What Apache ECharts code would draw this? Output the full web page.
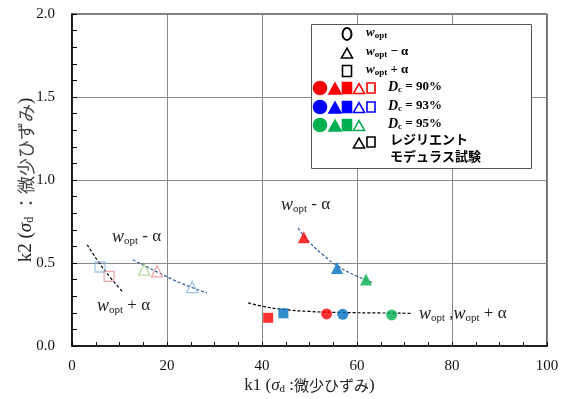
<!DOCTYPE html>
<html>
<head>
<meta charset="utf-8">
<script src="https://cdn.jsdelivr.net/npm/echarts@6/dist/echarts.min.js"></script>
<style>
	html, body { margin: 0; padding: 0; background: #fff; }
	#mychart { width: 565px; height: 399px; }
</style>
</head>
<body>
<div id="mychart"></div>
<script>
// x ticks / y ticks
var xTicks = [0, 20, 40, 60, 80, 100];
var yTicks = [0.0, 0.5, 1.0, 1.5, 2.0];

// 微少ひずみ試験 (filled) : [k1, k2]
var dc90Opt = [[53.6, 0.193]];
var dc93Opt = [[57.0, 0.191]];
var dc95Opt = [[67.3, 0.187]];
var dc90Minus = [[48.8, 0.655]];
var dc93Minus = [[55.8, 0.47]];
var dc95Minus = [[61.9, 0.40]];
var dc90Plus = [[41.3, 0.170]];
var dc93Plus = [[44.5, 0.197]];

// レジリエントモデュラス試験 (open)
var rm90Minus = [[17.9, 0.45]];
var rm93Minus = [[25.3, 0.355]];
var rm95Minus = [[15.2, 0.46]];
var rm90Plus = [[7.8, 0.42]];
var rm93Plus = [[5.9, 0.476]];

// trend lines
var trendRmPlus = [[3.2, 0.61], [5.5, 0.51], [8.0, 0.415], [10.7, 0.325]];
var trendRmMinus = [[12.8, 0.52], [18, 0.445], [23, 0.378], [28.4, 0.32]];
var trendSmMinus = [[47.6, 0.71], [50, 0.625], [53, 0.545], [56, 0.48], [60, 0.42], [63.4, 0.38]];
var trendSmOpt = [[37.1, 0.26], [40, 0.24], [44, 0.222], [50, 0.208], [57, 0.202], [65, 0.199], [71.6, 0.197]];

var legendDc = ['90%', '93%', '95%'];

var chart = {
	colors : { red : '#FF0000', blue : '#0070C0', green : '#00B050' },
	legendColors : { red : '#FF0000', blue : '#0000FF', green : '#00B050' },
	light : { red : '#E88E8E', blue : '#8DB4E2', green : '#A9D18E' },
	serif : '"Liberation Serif", "Times New Roman", "Noto Sans CJK JP", serif',

	initial : function initial() {
		var myChart = echarts.init(document.getElementById('mychart'));
		myChart.setOption(this.buildOption());
	},

	filled : function filled(name, data, symbol, color, size) {
		return {
			name : name, type : 'scatter', data : data, symbol : symbol, symbolSize : size,
			itemStyle : { color : color }, z : 5
		};
	},

	open : function open(name, data, symbol, color, size) {
		return {
			name : name, type : 'scatter', data : data, symbol : symbol, symbolSize : size,
			itemStyle : { color : 'rgba(0,0,0,0)', borderColor : color, borderWidth : 1.3 }, z : 5
		};
	},

	trend : function trend(data, color) {
		return {
			type : 'line', data : data, smooth : true, symbol : 'none', z : 3,
			lineStyle : { color : color, width : 1.2, type : [3, 2] }
		};
	},

	wText : function wText(x, y, tail) {
		return {
			type : 'text', left : x, top : y, z : 20,
			style : {
				text : '{w|w}{s|opt}{n|' + tail + '}',
				rich : {
					w : { fontFamily : chart.serif, fontStyle : 'italic', fontSize : 18, fill : '#222' },
					s : { fontFamily : chart.serif, fontSize : 11, fill : '#222', padding : [8, 0, 0, 0] },
					n : { fontFamily : chart.serif, fontSize : 17, fill : '#222' }
				}
			}
		};
	},

	tri : function tri(cx, cy, w, stroke, fill) {
		var h = w * 0.9;
		return {
			type : 'polygon', z : 31,
			shape : { points : [[cx, cy - h / 2], [cx + w / 2, cy + h / 2], [cx - w / 2, cy + h / 2]] },
			style : { fill : fill, stroke : stroke, lineWidth : 1.6 }
		};
	},

	sq : function sq(cx, cy, w, stroke, fill) {
		return {
			type : 'rect', z : 31,
			shape : { x : cx - w / 2, y : cy - w / 2 - 1, width : w, height : w + 2 },
			style : { fill : fill, stroke : stroke, lineWidth : 1.6 }
		};
	},

	circ : function circ(cx, cy, r, stroke, fill) {
		return {
			type : 'circle', z : 31,
			shape : { cx : cx, cy : cy, r : r },
			style : { fill : fill, stroke : stroke, lineWidth : 1.6 }
		};
	},

	legendText : function legendText(x, y, text, rich) {
		return {
			type : 'text', left : x, top : y, z : 32,
			style : { text : text, rich : rich, fontFamily : chart.serif, fontWeight : 'bold', fontSize : 13, fill : '#000' }
		};
	},

	buildLegend : function buildLegend() {
		var els = [];
		var wRich = {
			w : { fontFamily : chart.serif, fontStyle : 'italic', fontWeight : 'bold', fontSize : 13 },
			s : { fontFamily : chart.serif, fontWeight : 'bold', fontSize : 9, padding : [6, 0, 0, 0] },
			n : { fontFamily : chart.serif, fontWeight : 'bold', fontSize : 13 }
		};
		var dRich = {
			d : { fontFamily : chart.serif, fontStyle : 'italic', fontWeight : 'bold', fontSize : 14 },
			s : { fontFamily : chart.serif, fontWeight : 'bold', fontSize : 9, padding : [6, 0, 0, 0] },
			n : { fontFamily : chart.serif, fontWeight : 'bold', fontSize : 13 }
		};
		els.push({
			type : 'rect', z : 30,
			shape : { x : 311.5, y : 24.5, width : 220, height : 144 },
			style : { fill : '#fff', stroke : '#555', lineWidth : 1 }
		});
		// water content rows
		els.push({
			type : 'ellipse', z : 31,
			shape : { cx : 347, cy : 34, rx : 4.5, ry : 6 },
			style : { fill : 'none', stroke : '#000', lineWidth : 2 }
		});
		els.push(this.tri(347, 53, 11, '#000', 'none'));
		els.push(this.sq(347, 71, 9, '#000', 'none'));
		els.push(this.legendText(366, 26, '{w|w}{s|opt}', wRich));
		els.push(this.legendText(366, 45, '{w|w}{s|opt}{n| − α}', wRich));
		els.push(this.legendText(366, 63, '{w|w}{s|opt}{n| + α}', wRich));
		// density rows
		var keys = ['red', 'blue', 'green'];
		var rowY = [88, 107, 125];
		for (var i = 0; i < legendDc.length; i++) {
			var c = this.legendColors[keys[i]];
			var y = rowY[i];
			els.push(this.circ(320, y, 6.5, c, c));
			els.push(this.tri(335, y + 0.5, 12, c, c));
			els.push(this.sq(347, y, 9, c, c));
			els.push(this.tri(359, y + 0.5, 11, c, '#fff'));
			if (i < 2) {
				els.push(this.sq(371, y, 8, c, '#fff'));
			}
			els.push(this.legendText(388, y - 8, '{d|D}{s|c}{n| = ' + legendDc[i] + '}', dRich));
		}
		els.push(this.tri(359, 143, 11, '#000', '#fff'));
		els.push(this.sq(371, 142, 8, '#000', '#fff'));
		els.push(this.legendText(390, 134, 'レジリエント', null));
		els.push(this.legendText(390, 151, 'モデュラス試験', null));
		return els;
	},

	buildOption : function buildOption() {
		var axisFont = { fontFamily : chart.serif, fontSize : 15, color : '#111' };
		var xRich = {
			t : { fontFamily : chart.serif, fontSize : 17, color : '#222' },
			g : { fontFamily : chart.serif, fontStyle : 'italic', fontSize : 17, color : '#222' },
			s : { fontFamily : chart.serif, fontSize : 11, color : '#222', padding : [8, 0, 0, 0] },
			j : { fontFamily : '"Noto Sans CJK JP", sans-serif', fontSize : 15, color : '#222' }
		};
		var yRich = {
			t : { fontFamily : chart.serif, fontSize : 19, color : '#222' },
			g : { fontFamily : chart.serif, fontStyle : 'italic', fontSize : 19, color : '#222' },
			s : { fontFamily : chart.serif, fontSize : 12, color : '#222', padding : [8, 0, 0, 0] },
			j : { fontFamily : '"Noto Sans CJK JP", sans-serif', fontSize : 18, color : '#444' }
		};
		var graphics = this.buildLegend();
		graphics.push(this.wText(112, 228, ' - α'));
		graphics.push(this.wText(97, 297, ' + α'));
		graphics.push(this.wText(281, 196, ' - α'));
		graphics.push({
			type : 'text', left : 419, top : 305, z : 20,
			style : {
				text : '{w|w}{s|opt}{n| ,}{w|w}{s|opt}{n| + α}',
				rich : {
					w : { fontFamily : chart.serif, fontStyle : 'italic', fontSize : 18, fill : '#222' },
					s : { fontFamily : chart.serif, fontSize : 11, fill : '#222', padding : [8, 0, 0, 0] },
					n : { fontFamily : chart.serif, fontSize : 17, fill : '#222' }
				}
			}
		});

		return {
			animation : false,
			backgroundColor : '#fff',
			grid : {
				left : 72, right : 18, top : 14, bottom : 53, outerBoundsMode : 'none', containLabel : false,
				show : true, borderColor : '#000', borderWidth : 1.2
			},
			xAxis : {
				type : 'value', min : xTicks[0], max : xTicks[xTicks.length - 1], interval : 20,
				name : '{t|k1 (}{g|σ}{s|d}{t| :}{j|微少ひずみ}{t|)}',
				nameLocation : 'middle', nameGap : 30, nameMoveOverlap : false,
				nameTextStyle : { rich : xRich },
				axisLine : { lineStyle : { color : '#000', width : 1.5 } },
				axisTick : { inside : true, length : 4, lineStyle : { color : '#000' } },
				minorTick : { show : true, splitNumber : 4, length : 4, lineStyle : { color : '#000' } },
				axisLabel : Object.assign({ margin : 13 }, axisFont),
				splitLine : { lineStyle : { color : '#888', width : 1 } }
			},
			yAxis : {
				type : 'value', min : yTicks[0], max : yTicks[yTicks.length - 1], interval : 0.5,
				name : '{t|k2 (}{g|σ}{s|d}{t| }{j|：微少ひずみ}{t|)}',
				nameLocation : 'middle', nameGap : 36, nameRotate : 90, nameMoveOverlap : false,
				nameTextStyle : { rich : yRich },
				axisLine : { lineStyle : { color : '#000', width : 1.5 } },
				axisTick : { inside : true, length : 5, lineStyle : { color : '#000' } },
				minorTick : { show : true, splitNumber : 5, length : 5, lineStyle : { color : '#000' } },
				axisLabel : Object.assign({ margin : 17, formatter : function(v) { return v.toFixed(1); } }, axisFont),
				splitLine : { lineStyle : { color : '#888', width : 1 } }
			},
			series : [
				this.trend(trendRmPlus, '#000'),
				this.trend(trendRmMinus, '#2F5B9A'),
				this.trend(trendSmMinus, '#2F5B9A'),
				this.trend(trendSmOpt, '#000'),
				this.filled('90 opt', dc90Opt, 'circle', this.colors.red, 11),
				this.filled('93 opt', dc93Opt, 'circle', this.colors.blue, 11),
				this.filled('95 opt', dc95Opt, 'circle', this.colors.green, 11),
				this.filled('90 minus', dc90Minus, 'triangle', this.colors.red, 12),
				this.filled('93 minus', dc93Minus, 'triangle', this.colors.blue, 12),
				this.filled('95 minus', dc95Minus, 'triangle', this.colors.green, 12),
				this.filled('90 plus', dc90Plus, 'rect', this.colors.red, 10),
				this.filled('93 plus', dc93Plus, 'rect', this.colors.blue, 10),
				this.open('rm 90 minus', rm90Minus, 'triangle', this.light.red, 11),
				this.open('rm 93 minus', rm93Minus, 'triangle', this.light.blue, 11),
				this.open('rm 95 minus', rm95Minus, 'triangle', this.light.green, 11),
				this.open('rm 90 plus', rm90Plus, 'rect', this.light.red, 10),
				this.open('rm 93 plus', rm93Plus, 'rect', this.light.blue, 10)
			],
			graphic : graphics
		};
	}
};

chart.initial();
</script>
</body>
</html>
